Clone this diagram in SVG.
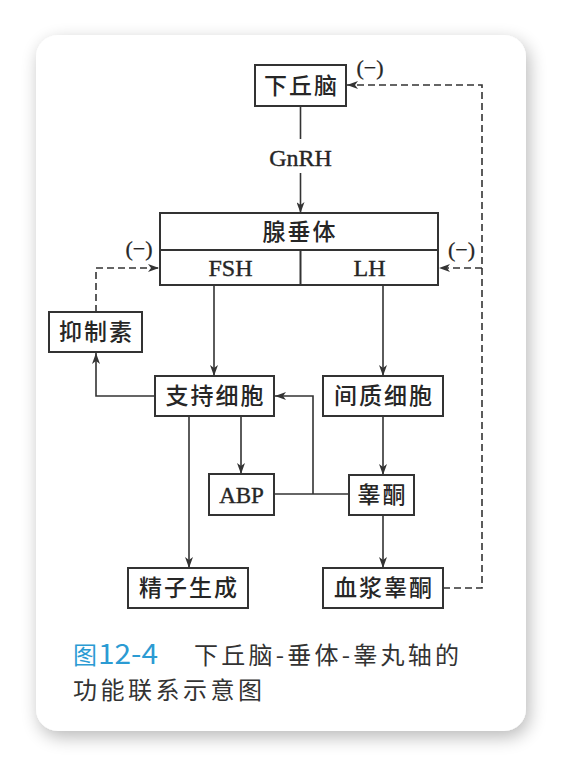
<svg xmlns="http://www.w3.org/2000/svg" width="562" height="768" viewBox="0 0 562 768">
<defs>
<filter id="sh" x="-20%" y="-20%" width="140%" height="140%">
<feGaussianBlur in="SourceAlpha" stdDeviation="9"/>
<feOffset dx="3" dy="6" result="b"/>
<feComponentTransfer><feFuncA type="linear" slope="0.28"/></feComponentTransfer>
<feMerge><feMergeNode/><feMergeNode in="SourceGraphic"/></feMerge>
</filter>
<marker id="ah" viewBox="0 0 11 8" refX="11" refY="4" markerWidth="11" markerHeight="8" orient="auto" markerUnits="userSpaceOnUse">
<path d="M0,0 L11,4 L0,8 L3,4 z" fill="#333"/>
</marker>
<style>
.box{fill:#fff;stroke:#333;stroke-width:2}
.ln{fill:none;stroke:#333;stroke-width:1.6}
.ds{fill:none;stroke:#333;stroke-width:1.6;stroke-dasharray:7 4}
.cj{font-family:"Noto Sans CJK SC",sans-serif;font-size:23px;font-weight:500;letter-spacing:2px;fill:#262626;text-anchor:middle}
.lt{font-family:"Liberation Serif",serif;font-size:24px;fill:#262626;stroke:#262626;stroke-width:0.4;text-anchor:middle}
.ng{font-family:"Liberation Serif",serif;font-size:22px;fill:#262626;stroke:#262626;stroke-width:0.3;text-anchor:middle}
.cap{font-family:"Noto Sans CJK SC",sans-serif;font-size:24px;fill:#333}
.blue{fill:#2b9bd3}
</style>
</defs>
<rect x="0" y="0" width="562" height="768" fill="#fff"/>
<rect x="36" y="35" width="490" height="696" rx="22" ry="22" fill="#fff" filter="url(#sh)"/>

<g id="connectors">
<line class="ln" x1="300.5" y1="106" x2="300.5" y2="139"/>
<line class="ln" x1="300.5" y1="173" x2="300.5" y2="213" marker-end="url(#ah)"/>
<polyline class="ds" points="443,588 482,588 482,85 347,85" marker-end="url(#ah)"/>
<line class="ds" x1="482" y1="268" x2="439" y2="268" marker-end="url(#ah)"/>
<polyline class="ds" points="96,312 96,268 159,268" marker-end="url(#ah)"/>
<polyline class="ln" points="155,396 96,396 96,353" marker-end="url(#ah)"/>
<line class="ln" x1="214" y1="285" x2="214" y2="376" marker-end="url(#ah)"/>
<line class="ln" x1="383" y1="285" x2="383" y2="376" marker-end="url(#ah)"/>
<line class="ln" x1="241" y1="416" x2="241" y2="474" marker-end="url(#ah)"/>
<line class="ln" x1="189" y1="416" x2="189" y2="568" marker-end="url(#ah)"/>
<line class="ln" x1="383" y1="416" x2="383" y2="475" marker-end="url(#ah)"/>
<line class="ln" x1="383" y1="515" x2="383" y2="568" marker-end="url(#ah)"/>
<line class="ln" x1="274" y1="494" x2="349" y2="494"/>
<polyline class="ln" points="313,494 313,396 275,396" marker-end="url(#ah)"/>
</g>

<g id="labels">
<text class="lt" x="300.5" y="166">GnRH</text>
<text class="ng" x="370" y="75">(−)</text>
<text class="ng" x="461.5" y="257">(−)</text>
<text class="ng" x="139" y="256">(−)</text>
</g>

<g id="hypothalamus">
<rect class="box" x="255" y="65" width="91" height="41"/>
<text class="cj" x="301.5" y="94">下丘脑</text>
</g>

<g id="pituitary">
<rect class="box" x="160" y="213" width="278" height="72"/>
<line class="ln" x1="160" y1="250" x2="438" y2="250" style="stroke-width:2"/>
<line class="ln" x1="300.5" y1="250" x2="300.5" y2="285" style="stroke-width:2"/>
<text class="cj" x="300" y="240">腺垂体</text>
<text class="lt" x="230.5" y="276">FSH</text>
<text class="lt" x="369.5" y="276">LH</text>
</g>

<g id="inhibin">
<rect class="box" x="49" y="312" width="93" height="40"/>
<text class="cj" x="96.5" y="340">抑制素</text>
</g>

<g id="sertoli">
<rect class="box" x="155" y="376" width="119" height="40"/>
<text class="cj" x="215.5" y="404">支持细胞</text>
</g>

<g id="leydig">
<rect class="box" x="323" y="376" width="120" height="40"/>
<text class="cj" x="384" y="404">间质细胞</text>
</g>

<g id="abp">
<rect class="box" x="209" y="474" width="65" height="41"/>
<text class="lt" x="241.5" y="503" style="font-size:23px">ABP</text>
</g>

<g id="testosterone">
<rect class="box" x="349" y="475" width="65" height="40"/>
<text class="cj" x="382.5" y="503">睾酮</text>
</g>

<g id="spermatogenesis">
<rect class="box" x="128" y="568" width="120" height="40"/>
<text class="cj" x="189" y="596">精子生成</text>
</g>

<g id="plasma-testosterone">
<rect class="box" x="323" y="568" width="120" height="40"/>
<text class="cj" x="384" y="596">血浆睾酮</text>
</g>

<g id="caption">
<text class="cap blue" x="73" y="664">图</text>
<text class="cap blue" x="98" y="664" style="font-size:28px" textLength="60" lengthAdjust="spacingAndGlyphs">12-4</text>
<text class="cap" x="194" y="664" textLength="265" lengthAdjust="spacing">下丘脑-垂体-睾丸轴的</text>
<text class="cap" x="73" y="699" textLength="189" lengthAdjust="spacing">功能联系示意图</text>
</g>
</svg>
